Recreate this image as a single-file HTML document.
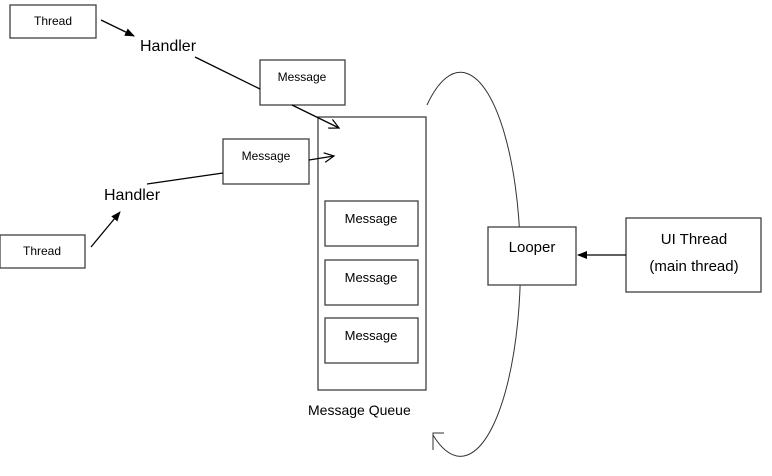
<!DOCTYPE html>
<html><head><style>
body{margin:0;background:#fff;}
svg text{font-family:"Liberation Sans",sans-serif;fill:#000;}
</style></head><body>
<svg width="772" height="471" xmlns="http://www.w3.org/2000/svg">
<defs>
<marker id="fa" markerWidth="10" markerHeight="8" refX="9" refY="4" orient="auto" markerUnits="userSpaceOnUse"><path d="M0,0 L10,4 L0,8 z" fill="#000"/></marker>
<marker id="oa" markerWidth="12" markerHeight="10" refX="10" refY="5" orient="auto" markerUnits="userSpaceOnUse"><path d="M0,0 L10,5 L0,10" fill="none" stroke="#000" stroke-width="1.2"/></marker>
</defs>
<g fill="none" stroke="#404040" stroke-width="1.3">
<rect x="10" y="5" width="86" height="33"/>
<rect x="260" y="60" width="85" height="45"/>
<rect x="223" y="139" width="86" height="45"/>
<rect x="0" y="235" width="85" height="33"/>
<rect x="318" y="117" width="108" height="273"/>
<rect x="325" y="201" width="93" height="45"/>
<rect x="325" y="260" width="93" height="45"/>
<rect x="325" y="318" width="93" height="45"/>
<rect x="626" y="218" width="135" height="74"/>
</g>
<g stroke="#000" stroke-width="1.3" fill="none">
<line x1="101" y1="20" x2="134" y2="36" marker-end="url(#fa)"/>
<line x1="195" y1="57" x2="260" y2="89"/>
<line x1="292" y1="105" x2="339" y2="128" marker-end="url(#oa)"/>
<line x1="309" y1="160" x2="334" y2="156" marker-end="url(#oa)"/>
<line x1="223" y1="173" x2="147" y2="184"/>
<line x1="91" y1="247" x2="120" y2="212" marker-end="url(#fa)"/>
<line x1="626" y1="255" x2="578" y2="255" marker-end="url(#fa)"/>
<path d="M427,105 A60,192 0 1 1 433,435" stroke="#333" stroke-width="1"/>
<path d="M433,450 L433,433 L444,433" stroke="#333" stroke-width="1"/>
</g>
<rect x="488" y="227" width="88" height="58" fill="#fff" stroke="#404040" stroke-width="1.3"/>
<text x="53" y="25" font-size="12" text-anchor="middle">Thread</text>
<text x="42" y="255" font-size="12" text-anchor="middle">Thread</text>
<text x="140" y="51" font-size="16">Handler</text>
<text x="104" y="200" font-size="16">Handler</text>
<text x="302" y="81" font-size="12" text-anchor="middle">Message</text>
<text x="266" y="160" font-size="12" text-anchor="middle">Message</text>
<text x="371" y="223" font-size="13" text-anchor="middle">Message</text>
<text x="371" y="282" font-size="13" text-anchor="middle">Message</text>
<text x="371" y="340" font-size="13" text-anchor="middle">Message</text>
<text x="308" y="415" font-size="14">Message Queue</text>
<text x="532" y="252" font-size="15" text-anchor="middle">Looper</text>
<text x="694" y="244" font-size="15" text-anchor="middle">UI Thread</text>
<text x="694" y="271" font-size="15" text-anchor="middle">(main thread)</text>
</svg>
</body></html>
